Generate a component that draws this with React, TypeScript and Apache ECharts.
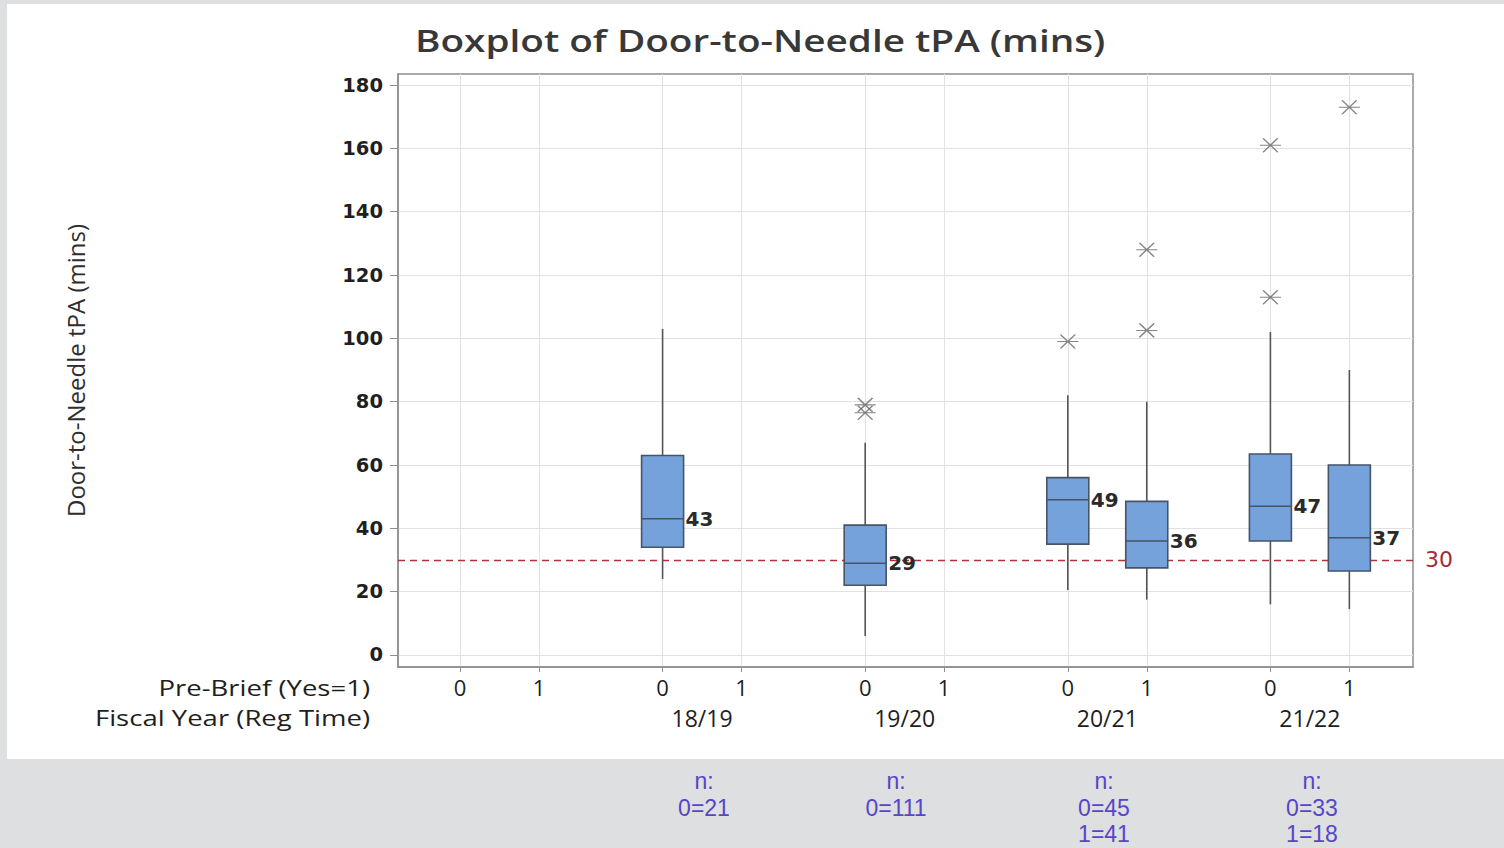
import React, { useEffect, useRef } from 'react';
import * as echarts from 'echarts';

// ---- data ----
const fiscalYears = ['', '18/19', '19/20', '20/21', '21/22'];
const preBriefLevels = ['0', '1'];

// one entry per drawn box
const boxYearIndex = [1, 2, 3, 3, 4, 4];
const boxPreBrief = [0, 0, 0, 1, 0, 1];
const whiskerLow = [24, 6, 20.5, 17.5, 16, 14.5];
const quartile1 = [34, 22, 35, 27.5, 36, 26.5];
const medians = [43, 29, 49, 36, 47, 37];
const quartile3 = [63, 41, 56, 48.5, 63.5, 60];
const whiskerHigh = [103, 67, 82, 80, 102, 90];

// outliers
const outlierYearIndex = [2, 2, 3, 3, 3, 4, 4, 4];
const outlierPreBrief = [0, 0, 0, 1, 1, 0, 0, 1];
const outlierValues = [79, 76.5, 99, 102.5, 128, 113, 161, 173];

const targetMinutes = 30;
const yTicks = [0, 20, 40, 60, 80, 100, 120, 140, 160, 180];

const chartTitle = 'Boxplot of Door-to-Needle tPA (mins)';
const yAxisTitle = 'Door-to-Needle tPA (mins)';
const rowHeaders = ['Pre-Brief (Yes=1)', 'Fiscal Year (Reg Time)'];

const sampleSizeLines = [
  ['n:', '0=21'],
  ['n:', '0=111'],
  ['n:', '0=45', '1=41'],
  ['n:', '0=33', '1=18'],
];

// ---- layout helpers ----
const GROUP_STEP = 2.566;
const pos = (g: number, s: number) => g * GROUP_STEP + s;
const X_MIN = -0.785;
const X_MAX = 12.07;

export default function App() {
  const ref = useRef<HTMLDivElement>(null);

  useEffect(() => {
    if (!ref.current) return;
    const chart = echarts.init(ref.current, null, { renderer: 'svg' });

    const tickValues: number[] = [];
    const tickLabelMap: Record<string, string> = {};
    fiscalYears.forEach((_, g) => {
      preBriefLevels.forEach((lv, s) => {
        const v = pos(g, s);
        tickValues.push(v);
        tickLabelMap[v.toFixed(3)] = lv;
      });
    });
    const yearValues: number[] = [];
    const yearLabelMap: Record<string, string> = {};
    fiscalYears.forEach((fy, g) => {
      if (!fy) return;
      const v = pos(g, 0.5);
      yearValues.push(v);
      yearLabelMap[v.toFixed(3)] = fy;
    });

    const boxData = boxYearIndex.map((g, i) => [
      pos(g, boxPreBrief[i]),
      whiskerLow[i],
      quartile1[i],
      medians[i],
      quartile3[i],
      whiskerHigh[i],
    ]);
    const outlierData = outlierYearIndex.map((g, i) => [pos(g, outlierPreBrief[i]), outlierValues[i]]);

    const labelFont = '"Open Sans", "DejaVu Sans", sans-serif';
    const numFont = '"DejaVu Sans", sans-serif';
    const gray = '#dedfe1';

    const graphic: any[] = [
      { type: 'rect', shape: { x: 0, y: 0, width: 1504, height: 4 }, style: { fill: gray } },
      { type: 'rect', shape: { x: 0, y: 0, width: 7, height: 848 }, style: { fill: gray } },
      { type: 'rect', shape: { x: 0, y: 759, width: 1504, height: 89 }, style: { fill: gray } },
      {
        type: 'text', x: 415, y: 40, scaleX: 1.29,
        style: { text: chartTitle, font: `600 30px ${labelFont}`, fill: '#383838', align: 'left', verticalAlign: 'middle' },
      },
      {
        type: 'text', x: 370, y: 688, scaleX: 1.31,
        style: { text: rowHeaders[0], font: `500 21px ${labelFont}`, fill: '#1e1e1e', align: 'right', verticalAlign: 'middle' },
      },
      {
        type: 'text', x: 370, y: 718, scaleX: 1.31,
        style: { text: rowHeaders[1], font: `500 21px ${labelFont}`, fill: '#1e1e1e', align: 'right', verticalAlign: 'middle' },
      },
    ];
    const nCenters = [704, 896, 1104, 1312];
    sampleSizeLines.forEach((lines, i) => {
      lines.forEach((t, j) => {
        graphic.push({
          type: 'text', x: nCenters[i], y: 781 + j * 26.5,
          style: { text: t, font: '23px "Liberation Sans", Arial, sans-serif', fill: '#5646c8', align: 'center', verticalAlign: 'middle' },
        });
      });
    });

    const option: any = {
      animation: false,
      backgroundColor: '#ffffff',
      grid: {
        left: 398, top: 74, width: 1015, height: 593,
        show: true, borderColor: '#8e8e8e', borderWidth: 1.5, backgroundColor: '#fff',
        containLabel: false,
      },
      xAxis: [
        {
          type: 'value', min: X_MIN, max: X_MAX, position: 'bottom',
          axisLine: { show: true, onZero: false, lineStyle: { color: '#8e8e8e', width: 1.5 } },
          axisTick: { show: true, customValues: tickValues, length: 5, lineStyle: { color: '#8e8e8e' } },
          axisLabel: {
            customValues: tickValues, margin: 9,
            formatter: (v: number) => tickLabelMap[v.toFixed(3)] ?? '',
            fontFamily: labelFont, fontSize: 22, fontWeight: 500, color: '#1e1e1e',
          },
          splitLine: { show: true, lineStyle: { color: '#e2e2e2', width: 1 } },
        },
        {
          type: 'value', min: X_MIN, max: X_MAX, position: 'bottom', offset: 30,
          axisLine: { show: false, onZero: false },
          axisTick: { show: false },
          axisLabel: {
            customValues: yearValues, margin: 9,
            formatter: (v: number) => yearLabelMap[v.toFixed(3)] ?? '',
            fontFamily: labelFont, fontSize: 23, fontWeight: 500, color: '#1e1e1e',
          },
          splitLine: { show: false },
        },
      ],
      yAxis: {
        type: 'value', min: -3.8, max: 183.5,
        name: yAxisTitle, nameLocation: 'middle', nameGap: 311,
        nameTextStyle: { fontFamily: labelFont, fontSize: 24, fontWeight: 500, color: '#2e2e2e' },
        axisLine: { show: true, onZero: false, lineStyle: { color: '#8e8e8e', width: 1.5 } },
        axisTick: { show: true, customValues: yTicks, length: 8, lineStyle: { color: '#8e8e8e' } },
        axisLabel: { customValues: yTicks, margin: 15, fontFamily: numFont, fontSize: 19.5, fontWeight: 'bold', color: '#1f1f1f' },
        splitLine: { show: true, lineStyle: { color: '#e2e2e2', width: 1 } },
      },
      graphic,
      series: [
        {
          type: 'custom',
          name: 'box',
          xAxisIndex: 0,
          data: boxData,
          encode: { x: 0, y: [1, 2, 3, 4, 5] },
          z: 5,
          renderItem: (params: any, api: any) => {
            const x = api.value(0);
            const lo = api.coord([x, api.value(1)]);
            const q1 = api.coord([x, api.value(2)]);
            const md = api.coord([x, api.value(3)]);
            const q3 = api.coord([x, api.value(4)]);
            const hi = api.coord([x, api.value(5)]);
            const cx = lo[0];
            const hw = 21;
            const edge = '#465468';
            return {
              type: 'group',
              children: [
                { type: 'line', shape: { x1: cx, y1: lo[1], x2: cx, y2: q1[1] }, style: { stroke: '#555', lineWidth: 1.6 } },
                { type: 'line', shape: { x1: cx, y1: q3[1], x2: cx, y2: hi[1] }, style: { stroke: '#555', lineWidth: 1.6 } },
                {
                  type: 'rect',
                  shape: { x: cx - hw, y: q3[1], width: hw * 2, height: q1[1] - q3[1] },
                  style: { fill: '#75a2da', stroke: edge, lineWidth: 1.6 },
                },
                { type: 'line', shape: { x1: cx - hw, y1: md[1], x2: cx + hw, y2: md[1] }, style: { stroke: edge, lineWidth: 1.5 } },
                {
                  type: 'text', x: cx + hw + 2, y: md[1],
                  style: {
                    text: String(api.value(3)), font: `bold 20px ${numFont}`, fill: '#2a2a2a',
                    align: 'left', verticalAlign: 'middle',
                  },
                },
              ],
            };
          },
        },
        {
          type: 'scatter',
          name: 'outliers',
          xAxisIndex: 0,
          data: outlierData,
          symbol: 'path://M-1,0L1,0M-0.7,-0.65L0.7,0.65M-0.7,0.65L0.7,-0.65',
          symbolSize: [21, 14],
          itemStyle: { color: 'rgba(0,0,0,0)', borderColor: '#666', borderWidth: 1.4 },
          z: 6,
        },
        {
          type: 'line',
          name: 'target',
          xAxisIndex: 0,
          data: [],
          markLine: {
            silent: true,
            symbol: ['none', 'none'],
            data: [{ yAxis: targetMinutes }],
            lineStyle: { color: '#b0303c', type: [7, 5], width: 1.3 },
            label: { show: true, position: 'end', distance: 12, formatter: String(targetMinutes), fontFamily: numFont, fontSize: 22, color: '#a52a36' },
          },
          z: 4,
        },
      ],
    };

    chart.setOption(option);
    return () => chart.dispose();
  }, []);

  return <div ref={ref} style={{ position: 'absolute', left: 0, top: 0, width: 1504, height: 848 }} />;
}
